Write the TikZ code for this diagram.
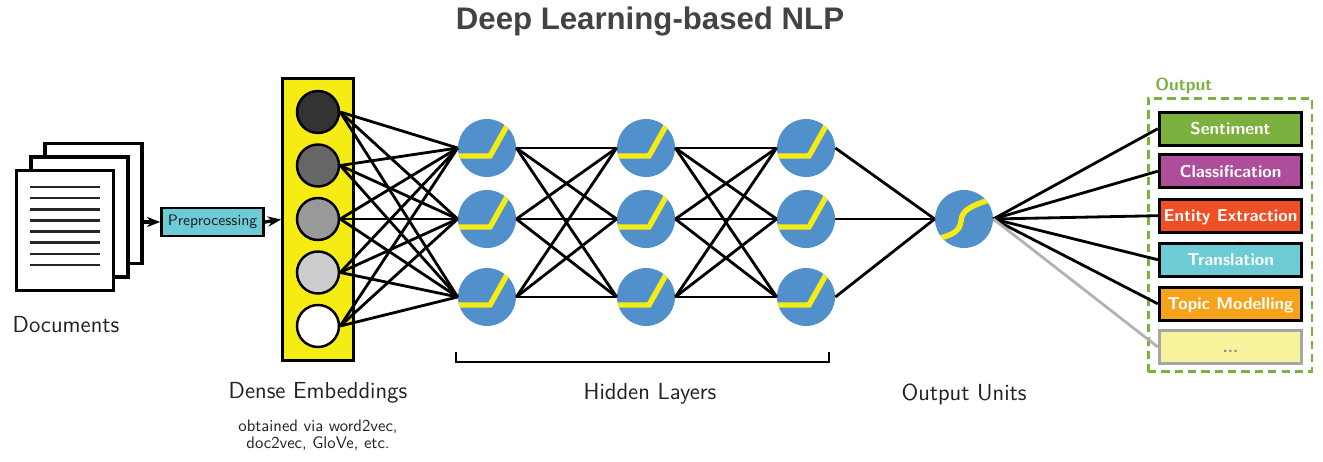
\documentclass[tikz,border=0pt]{standalone}
\usepackage{fontspec}
\usetikzlibrary{arrows.meta}
\newfontfamily\titlefont{Liberation Sans}
\definecolor{unitblue}{HTML}{5290CC}
\definecolor{actyellow}{HTML}{F5EC14}
\definecolor{txtdark}{HTML}{222222}
\definecolor{outgreen}{HTML}{7CB03F}
\definecolor{outpurple}{HTML}{AE4E9A}
\definecolor{outred}{HTML}{F04E25}
\definecolor{outcyan}{HTML}{6DCBD6}
\definecolor{outorange}{HTML}{F7A21B}
\definecolor{outpale}{HTML}{F7F39C}
\tikzset{
	sheet/.style={draw=black,line width=2pt,fill=white,minimum width=1.94cm,minimum height=2.4cm,inner sep=0pt},
	emb/.style={circle,draw=black,line width=1.4pt,minimum size=0.84cm,inner sep=0pt},
	hid/.style={circle,fill=unitblue,minimum size=1.16cm,inner sep=0pt,
		path picture={\draw[actyellow,line width=3.1pt]
			([shift={(-32,8)}]path picture bounding box.center)--([shift={(3,8)}]path picture bounding box.center)--([shift={(21,-24)}]path picture bounding box.center);}},
	sig/.style={circle,fill=unitblue,minimum size=1.16cm,inner sep=0pt,
		path picture={\draw[actyellow,line width=3.1pt]
			([shift={(-24,19)}]path picture bounding box.center)..controls ([shift={(-8,15)}]path picture bounding box.center) and ([shift={(-4,10)}]path picture bounding box.center)..([shift={(-3,2)}]path picture bounding box.center)..controls ([shift={(-2,-8)}]path picture bounding box.center) and ([shift={(4,-12)}]path picture bounding box.center)..([shift={(25,-19)}]path picture bounding box.center);}},
	outbox/.style={draw=black,line width=1.9pt,minimum width=2.84cm,minimum height=0.66cm,inner sep=0pt,text=white,text height=8pt,text depth=1.2pt,font=\sffamily\bfseries\fontsize{9.75}{11}\selectfont},
	lbl/.style={text=txtdark,font=\sffamily\fontsize{13.2}{15}\selectfont},
	wire/.style={black,line width=1.6pt},
	feed/.style={-{Stealth[length=7.5pt,width=5.8pt]},line width=1.9pt},
}
\begin{document}
\begin{tikzpicture}[x=0.02cm,y=-0.02cm,line join=miter]
	\useasboundingbox (0,0) rectangle (1323,462);
	\node[text=txtdark!85,font=\titlefont\bfseries\fontsize{17.75}{20}\selectfont] (title) at (650,21.5) {Deep Learning-based NLP};
	% documents
	\node[sheet] (doc3) at (93.5,203.5) {};
	\node[sheet] (doc2) at (79.5,217) {};
	\node[sheet] (doc1) at (65,230.5) {};
	\foreach \i in {0,...,7}
		\draw[line width=1.5pt,black!85] (30,187+11.15*\i)--(100,187+11.15*\i);
	\node[lbl] (doclabel) at (66,325) {Documents};
	\node[draw=black,line width=1.6pt,fill=outcyan,minimum width=2.04cm,minimum height=0.56cm,inner sep=0pt,text=txtdark,font=\sffamily\fontsize{8.7}{10}\selectfont] (prep) at (212.5,222) {Preprocessing};
	% embedding column
	\node[draw=black,line width=1.7pt,fill=actyellow,minimum width=1.42cm,minimum height=5.64cm,inner sep=0pt] (embbox) at (318,219.5) {};
	\draw[feed] (143,222)--(prep.west);
	\draw[feed] (prep.east)--(embbox.west);
	\foreach \n/\yy/\g in {1/112/80,2/165.5/60,3/219/40,4/272.5/20,5/326/0}
		\node[emb,fill=black!\g] (e\n) at (318,\yy) {};
	% hidden units
	\foreach \c/\xx in {1/487,2/646,3/806}
		\foreach \r/\yy in {1/148,2/219,3/297}
			\node[hid] (h\c\r) at (\xx,\yy) {};
	\node[sig] (outunit) at (964,219) {};
	\foreach \n in {1,...,5}
		\foreach \r in {1,2,3}
			\draw[wire] (e\n.east)--(h1\r.west);
	\foreach \a/\b in {1/2,2/3}
		\foreach \r in {1,2,3}
			\foreach \s in {1,2,3}
				\draw[wire] (h\a\r.east)--(h\b\s.west);
	\foreach \r in {1,2,3}
		\draw[wire] (h3\r.east)--(outunit.west);
	% output tasks
	\node[draw=outgreen,dash pattern=on 4.7pt off 2.9pt,line width=1.7pt,minimum width=3.28cm,minimum height=5.48cm,inner sep=0pt] (outframe) at (1230,235) {};
	\node[text=outgreen,font=\sffamily\bfseries\fontsize{9.9}{11}\selectfont,anchor=base west,inner sep=0pt] (outlabel) at (1155,91) {Output};
	\node[outbox,fill=outgreen] (o1) at (1230.5,128.7) {Sentiment};
	\node[outbox,fill=outpurple] (o2) at (1230.5,171.2) {Classification};
	\node[outbox,fill=outred] (o3) at (1230.5,215.7) {Entity Extraction};
	\node[outbox,fill=outcyan] (o4) at (1230.5,259.7) {Translation};
	\node[outbox,fill=outorange] (o5) at (1230.5,303.8) {Topic Modelling};
	\node[outbox,fill=outpale,draw=black!35,text=black!45] (o6) at (1230.5,347) {...};
	\foreach \n in {1,...,5}
		\draw[wire] (outunit.east)--(o\n.west);
	\draw[wire,draw=black!30] (outunit.east)--(o6.west);
	% bracket and captions
	\coordinate (brl) at (456,352);
	\coordinate (brr) at (829,352);
	\draw[line width=1.3pt] (brl)--++(0,10)-|(brr);
	\node[lbl] (emblabel) at (318,393) {Dense Embeddings};
	\node[text=txtdark,align=center,font=\sffamily\fontsize{9.5}{9.8}\selectfont] (embnote) at (318,435.5) {obtained via word2vec,\\doc2vec, GloVe, etc.};
	\node[lbl] (hidlabel) at (650,394) {Hidden Layers};
	\node[lbl] (outunits) at (964,394) {Output Units};
\end{tikzpicture}
\end{document}
